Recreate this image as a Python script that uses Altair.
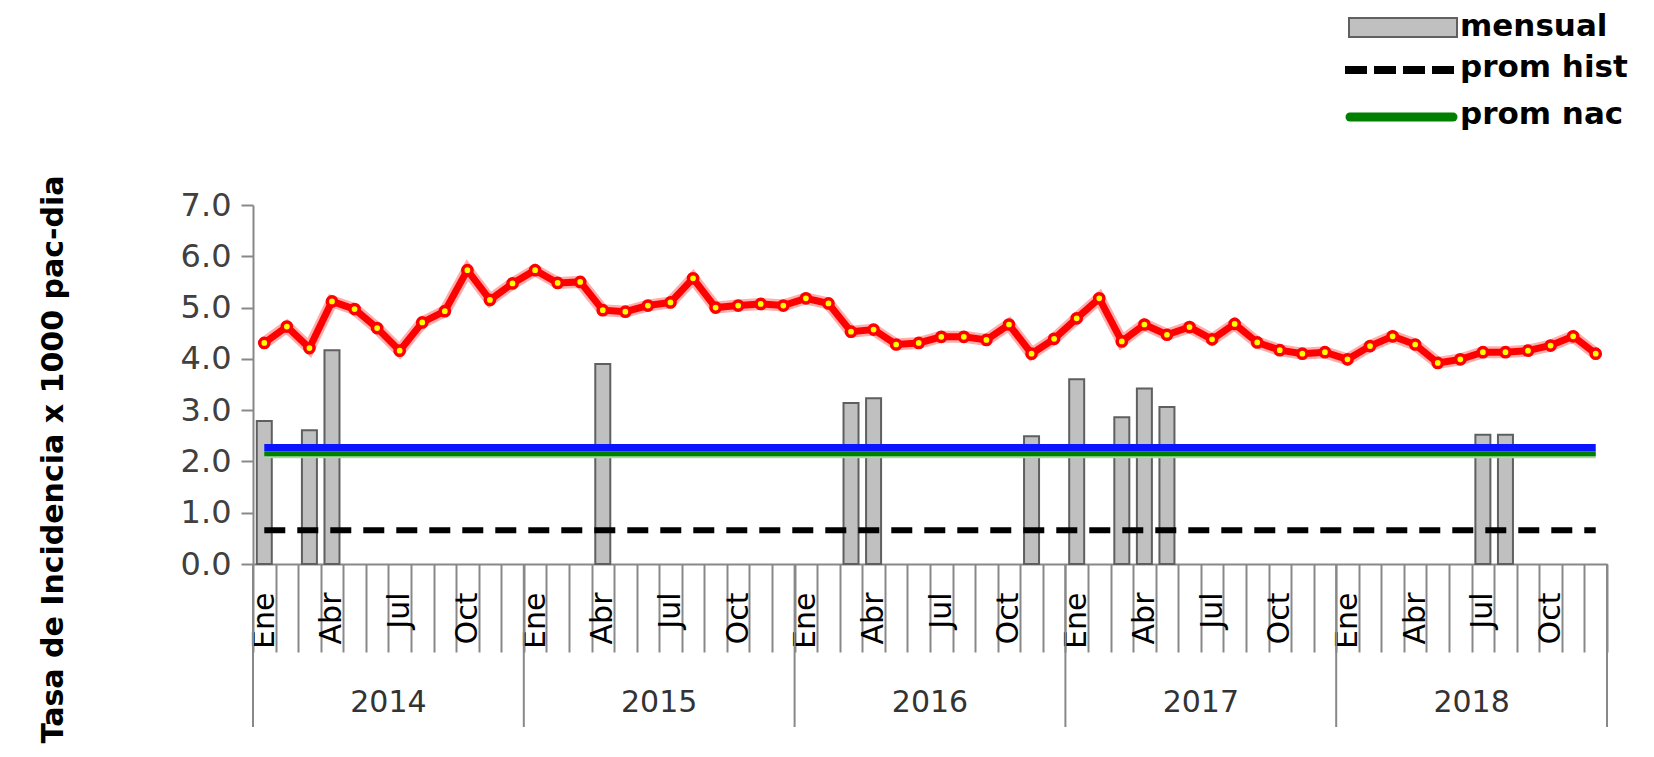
import altair as alt
import pandas as pd

years = [2014, 2015, 2016, 2017, 2018]
month_abbr = ["Ene", "", "", "Abr", "", "", "Jul", "", "", "Oct", "", ""]

tasa = [
    4.31, 4.63, 4.21, 5.12, 4.97, 4.60, 4.16, 4.71, 4.93, 5.73, 5.15, 5.47,
    5.73, 5.48, 5.50, 4.95, 4.92, 5.04, 5.10, 5.57, 5.00, 5.04, 5.07, 5.04,
    5.18, 5.08, 4.53, 4.57, 4.28, 4.31, 4.43, 4.43, 4.37, 4.67, 4.10, 4.39,
    4.79, 5.18, 4.34, 4.67, 4.47, 4.62, 4.38, 4.68, 4.32, 4.17, 4.10, 4.13,
    3.99, 4.25, 4.44, 4.28, 3.92, 3.99, 4.13, 4.13, 4.16, 4.26, 4.44, 4.10,
]
N = None
mensual = [
    2.79, N, 2.61, 4.17, N, N, N, N, N, N, N, N,
    N, N, N, 3.90, N, N, N, N, N, N, N, N,
    N, N, 3.14, 3.23, N, N, N, N, N, N, 2.49, N,
    3.60, N, 2.86, 3.42, 3.06, N, N, N, N, N, N, N,
    N, N, N, N, N, N, 2.52, 2.52, N, N, N, N,
]
prom_hist = 0.66
prom_nac = 2.15
prom_azul = 2.27
legend_names = ["mensual", "prom hist", "prom nac"]

cats = [f"{y}-{m:02d}" for y in years for m in range(1, 13)]
df = pd.DataFrame({
    "cat": cats,
    "tasa": tasa,
    "mensual": mensual,
    "hist": [prom_hist] * len(cats),
    "nac": [prom_nac] * len(cats),
    "azul": [prom_azul] * len(cats),
})
df_years = pd.DataFrame({
    "year": [str(y) for y in years],
    "start": [f"{y}-01" for y in years],
    "mid": [f"{y}-07" for y in years],
})
df_end = pd.DataFrame({"end": [cats[-1]]})

expr = "''"
for i in range(11, -1, -1):
    if month_abbr[i]:
        expr = f"slice('' + datum.value, 5) == '{i+1:02d}' ? '{month_abbr[i]}' : ({expr})"

FONT = "DejaVu Sans"
GRAY = "#888888"
H = 359

xscale = alt.Scale(type="band", paddingInner=0, paddingOuter=0, domain=cats)
X = alt.X("cat:N", scale=xscale,
          axis=alt.Axis(title=None, orient="bottom", labelExpr=expr, labelAngle=270,
                        labelFont=FONT, labelFontSize=30, labelColor="#000000",
                        labelPadding=-60, labelOverlap=False, tickBand="extent",
                        tickSize=88, tickColor=GRAY, tickWidth=2,
                        domainColor=GRAY, domainWidth=2, grid=False))
yscale = alt.Scale(domain=[0, 7], nice=False)

base = alt.Chart(df)

bars = base.transform_filter("datum.mensual != null").mark_bar(
    size=15, fill="#c0c0c0", stroke="#5f5f5f", strokeWidth=2
).encode(
    x=X,
    y=alt.Y("mensual:Q", scale=yscale,
            axis=alt.Axis(values=[0, 1, 2, 3, 4, 5, 6, 7], format=".1f", grid=False,
                          tickSize=12, tickColor=GRAY, tickWidth=2,
                          domainColor=GRAY, domainWidth=2,
                          labelFont=FONT, labelFontSize=32, labelColor="#404040",
                          labelPadding=10,
                          title="Tasa de Incidencia x 1000 pac-dia",
                          titleFont=FONT, titleFontSize=30, titleFontWeight="bold",
                          titleColor="#000000", titleAngle=270, titleX=-200, titleY=254,
                          titleAlign="center", titleBaseline="middle")),
)

hist = base.mark_line(strokeWidth=6, strokeDash=[21, 12], color="#000000").encode(
    x=X, y=alt.Y("hist:Q", scale=yscale))
nac_halo = base.mark_line(strokeWidth=9, color="#a8d8a8").encode(
    x=X, y=alt.Y("nac:Q", scale=yscale))
nac = base.mark_line(strokeWidth=5, color="#008000").encode(
    x=X, y=alt.Y("nac:Q", scale=yscale))
azul = base.mark_line(strokeWidth=7, color="#0a14ff").encode(
    x=X, y=alt.Y("azul:Q", scale=yscale))

red_halo = base.mark_line(strokeWidth=12, color="#ff8a8a", opacity=0.7).encode(
    x=X, y=alt.Y("tasa:Q", scale=yscale))
red = base.mark_line(strokeWidth=7, color="#ff0000").encode(
    x=X, y=alt.Y("tasa:Q", scale=yscale))
pts = base.mark_point(filled=True, fill="#ffff00", stroke="#ff0000", strokeWidth=3.5,
                      size=85, opacity=1).encode(
    x=X, y=alt.Y("tasa:Q", scale=yscale))

# year separators and year labels under the month axis
yr = alt.Chart(df_years)
yr_sep = yr.mark_rule(color=GRAY, strokeWidth=2).encode(
    x=alt.X("start:N", scale=xscale, bandPosition=0),
    y=alt.value(H), y2=alt.value(H + 163))
yr_end = alt.Chart(df_end).mark_rule(color=GRAY, strokeWidth=2).encode(
    x=alt.X("end:N", scale=xscale, bandPosition=1),
    y=alt.value(H), y2=alt.value(H + 163))
yr_lbl = yr.mark_text(baseline="top", align="center", font=FONT, fontSize=30,
                      color="#333333").encode(
    x=alt.X("mid:N", scale=xscale, bandPosition=0),
    y=alt.value(H + 124), text="year:N")

# legend (top right)
lg = alt.Chart(df_end)
leg_box = lg.mark_rect(fill="#c0c0c0", stroke="#606060", strokeWidth=2).encode(
    x=alt.value(1096), x2=alt.value(1204), y=alt.value(-187), y2=alt.value(-168))
leg_hist = lg.mark_rule(color="#000000", strokeWidth=8, strokeDash=[22, 7]).encode(
    x=alt.value(1092), x2=alt.value(1204), y=alt.value(-135))
leg_nac = lg.mark_rule(color="#008000", strokeWidth=9, strokeCap="round").encode(
    x=alt.value(1097), x2=alt.value(1200), y=alt.value(-88))
leg_texts = [
    lg.mark_text(text=name, align="left", baseline="middle", font=FONT, fontSize=31,
                 fontWeight="bold", color="#000000").encode(
        x=alt.value(1207), y=alt.value(yy))
    for name, yy in zip(legend_names, [-178, -137, -90])
]

chart = alt.layer(
    bars, hist, nac_halo, nac, azul, red_halo, red, pts,
    yr_sep, yr_end, yr_lbl, leg_box, leg_hist, leg_nac, *leg_texts
).properties(
    width=1354, height=H,
    padding={"left": 245, "top": 197, "right": 35, "bottom": 184},
    autosize=alt.AutoSizeParams(type="none"),
    background="white",
).configure_view(stroke=None)

chart.save("out.html", embed_options={"renderer": "svg", "actions": False})
